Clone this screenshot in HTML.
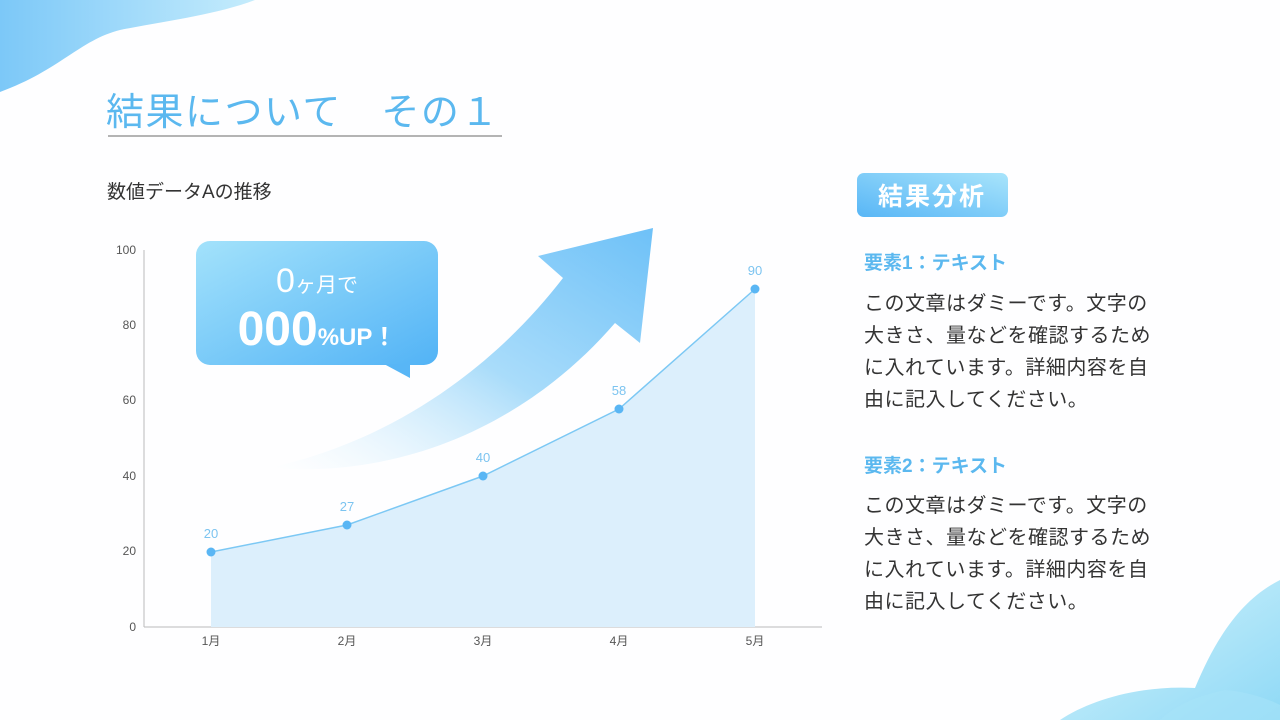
<!DOCTYPE html>
<html><head><meta charset="utf-8"><style>
body{margin:0;width:1280px;height:720px;overflow:hidden;background:#fefeff;font-family:"Liberation Sans","Noto Sans CJK JP",sans-serif;position:relative}
.abs{position:absolute;white-space:nowrap}
.p{font-size:20px;color:#333;line-height:32px;letter-spacing:0.5px}
.h{font-size:19px;color:#5bb8ef;font-weight:bold}
</style></head><body>
<svg width="1280" height="720" style="position:absolute;left:0;top:0">
<defs>
<linearGradient id="tl" x1="0" y1="0" x2="1" y2="0"><stop offset="0" stop-color="#7cc8f8"/><stop offset="1" stop-color="#c5ecfc"/></linearGradient>
<linearGradient id="br" x1="0" y1="0" x2="1" y2="1"><stop offset="0" stop-color="#d6f4fc"/><stop offset="1" stop-color="#8fd9f6"/></linearGradient>
<linearGradient id="ar" x1="0" y1="1" x2="1" y2="0"><stop offset="0" stop-color="#ffffff" stop-opacity="0.3"/><stop offset="0.5" stop-color="#a9dcfa"/><stop offset="1" stop-color="#6ec1f8"/></linearGradient>
<linearGradient id="bx" x1="0" y1="0" x2="1" y2="1"><stop offset="0" stop-color="#a3e2fb"/><stop offset="1" stop-color="#52b3f6"/></linearGradient>
<linearGradient id="tag" x1="0" y1="1" x2="1" y2="0"><stop offset="0" stop-color="#58b6f6"/><stop offset="1" stop-color="#a8e4fb"/></linearGradient>
</defs>
<path d="M0,0 L255,0 C215,15 170,20 120,30 C80,40 60,70 0,92 Z" fill="url(#tl)"/>
<path d="M1060,720 C1090,700 1140,685 1195,688 C1215,640 1240,600 1280,580 L1280,720 Z" fill="url(#br)"/>
<path d="M1160,720 C1175,705 1200,695 1225,690 C1250,692 1270,700 1280,705 L1280,720Z" fill="#a6e3f8" opacity="0.6"/>
<line x1="144" y1="250" x2="144" y2="627" stroke="#bbb" stroke-width="1"/>
<line x1="144" y1="627" x2="822" y2="627" stroke="#bbb" stroke-width="1"/>
<g font-size="12" fill="#555" text-anchor="end">
<text x="136" y="631">0</text><text x="136" y="555">20</text><text x="136" y="480">40</text><text x="136" y="404">60</text><text x="136" y="329">80</text><text x="136" y="254">100</text></g>
<g font-size="12" fill="#555" text-anchor="middle">
<text x="211" y="645">1月</text><text x="347" y="645">2月</text><text x="483" y="645">3月</text><text x="619" y="645">4月</text><text x="755" y="645">5月</text></g>
<path d="M211,552 L347,525 L483,476 L619,409 L755,289 L755,627 L211,627Z" fill="#dceffc"/>
<path d="M268,468 C400,440 500,360 563,278 L538,256 L653,228 L640,343 L615,323 C540,410 420,480 268,468Z" fill="url(#ar)"/>
<polyline points="211,552 347,525 483,476 619,409 755,289" fill="none" stroke="#7cc8f4" stroke-width="1.5"/>
<g fill="#5ab6f4"><circle cx="211" cy="552" r="4.5"/><circle cx="347" cy="525" r="4.5"/><circle cx="483" cy="476" r="4.5"/><circle cx="619" cy="409" r="4.5"/><circle cx="755" cy="289" r="4.5"/></g>
<g font-size="13" fill="#7cc4f0" text-anchor="middle">
<text x="211" y="538">20</text><text x="347" y="511">27</text><text x="483" y="462">40</text><text x="619" y="395">58</text><text x="755" y="275">90</text></g>
<rect x="196" y="241" width="242" height="124" rx="14" fill="url(#bx)"/>
<path d="M384,364 L410,364 L410,378Z" fill="#58b6f6"/>
<text x="317" y="292" text-anchor="middle" fill="#fff" font-size="34"><tspan>0</tspan><tspan font-size="21">ヶ月で</tspan></text>
<text x="317" y="345" text-anchor="middle" fill="#fff" font-size="48" font-weight="bold"><tspan>000</tspan><tspan font-size="24">%UP！</tspan></text>
<rect x="857" y="173" width="151" height="44" rx="7" fill="url(#tag)"/>
<text x="932" y="205" text-anchor="middle" fill="#fff" font-size="25" font-weight="bold" letter-spacing="2">結果分析</text>
<line x1="108" y1="136" x2="502" y2="136" stroke="#888" stroke-width="1.3"/>
</svg>
<div class="abs" style="left:106px;top:81px;font-size:38px;color:#5bb8ef;letter-spacing:1.5px">結果について　その１</div>
<div class="abs" style="left:107px;top:177px;font-size:19px;color:#333">数値データAの推移</div>
<div class="abs h" style="left:864px;top:248px">要素1：テキスト</div>
<div class="abs p" style="left:864px;top:288px">この文章はダミーです。文字の<br>大きさ、量などを確認するため<br>に入れています。詳細内容を自<br>由に記入してください。</div>
<div class="abs h" style="left:864px;top:451px">要素2：テキスト</div>
<div class="abs p" style="left:864px;top:490px">この文章はダミーです。文字の<br>大きさ、量などを確認するため<br>に入れています。詳細内容を自<br>由に記入してください。</div>
</body></html>
